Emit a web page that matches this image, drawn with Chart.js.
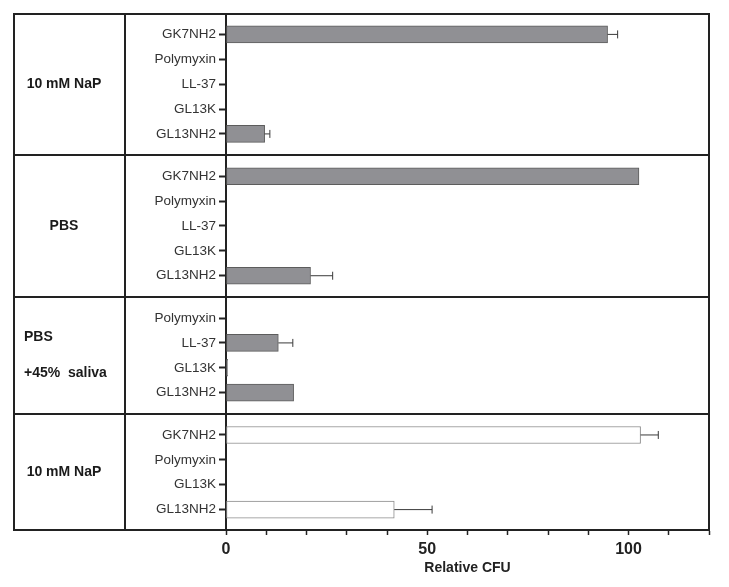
<!DOCTYPE html>
<html>
<head>
<meta charset="utf-8">
<script src="https://cdn.jsdelivr.net/npm/chart.js@4/dist/chart.umd.min.js"></script>
<style>
  html, body { margin: 0; padding: 0; background: #fff; }
  #wrap { width: 729px; height: 587px; }
</style>
</head>
<body>
<div id="wrap"><canvas id="myChart"></canvas></div>
<script>
// conditions, top to bottom
const groupNames = [["10 mM NaP"], ["PBS"], ["PBS", "+45%  saliva"], ["10 mM NaP"]];
const groupPeptides = [
  ["GK7NH2", "Polymyxin", "LL-37", "GL13K", "GL13NH2"],
  ["GK7NH2", "Polymyxin", "LL-37", "GL13K", "GL13NH2"],
  ["Polymyxin", "LL-37", "GL13K", "GL13NH2"],
  ["GK7NH2", "Polymyxin", "GL13K", "GL13NH2"]
];
// relative CFU (%)
const groupValues = [
  [94.8, 0, 0, 0, 9.6],
  [102.6, 0, 0, 0, 21],
  [0, 13, 0.4, 16.8],
  [103, 0, 0, 41.8]
];
// error bars (+ side only)
const groupErrors = [
  [2.5, 0, 0, 0, 1.3],
  [0, 0, 0, 0, 5.5],
  [0, 3.6, 0, 0],
  [4.4, 0, 0, 9.4]
];
const xLabels = [0, 50, 100];

const groupFill = ["#909094", "#909094", "#909094", "#ffffff"];
const groupBorder = ["#5c5c5c", "#5c5c5c", "#5c5c5c", "#8a8a8a"];

const GAP = 0.7; // extra space between condition blocks (in rows)
const LINE = "#222";

// flatten into rows
const rows = [];
let n = 0;
groupPeptides.forEach((peps, g) => {
  peps.forEach((p, i) => {
    rows.push({ label: p, group: g, x: groupValues[g][i], y: n + g * GAP, err: groupErrors[g][i] });
    n++;
  });
});
const yMin = -0.82;
const yMax = rows[rows.length - 1].y + 0.82;

// frame, block dividers, condition labels and error bars
const framePlugin = {
  id: "frame",
  afterDatasetsDraw(chart) {
    const ctx = chart.ctx;
    const xs = chart.scales.x, ys = chart.scales.y;
    const area = chart.chartArea;
    const left = ys.left;
    ctx.save();

    // error bars
    ctx.strokeStyle = "#3a3a3a";
    ctx.lineWidth = 1;
    rows.forEach((r) => {
      if (!r.err) return;
      const a = xs.getPixelForValue(r.x);
      const b = xs.getPixelForValue(r.x + r.err);
      const y = ys.getPixelForValue(r.y);
      ctx.beginPath();
      ctx.moveTo(a, y); ctx.lineTo(b, y);
      ctx.moveTo(b, y - 4); ctx.lineTo(b, y + 4);
      ctx.stroke();
    });

    ctx.strokeStyle = LINE;
    ctx.lineWidth = 2;
    ctx.strokeRect(left, area.top, area.right - left, area.bottom - area.top);
    ctx.beginPath();
    ctx.moveTo(125, area.top); ctx.lineTo(125, area.bottom);
    ctx.stroke();

    const tops = [area.top];
    for (let g = 1; g < groupPeptides.length; g++) {
      const last = rows.filter(r => r.group === g - 1).pop();
      const first = rows.find(r => r.group === g);
      const y = Math.round((ys.getPixelForValue(last.y) + ys.getPixelForValue(first.y)) / 2);
      tops.push(y);
      ctx.beginPath();
      ctx.moveTo(left, y); ctx.lineTo(area.right, y);
      ctx.stroke();
    }
    tops.push(area.bottom);

    // condition labels
    ctx.fillStyle = "#1a1a1a";
    ctx.font = "bold 14px 'Liberation Sans', Arial, sans-serif";
    ctx.textBaseline = "middle";
    groupNames.forEach((lines, g) => {
      const mid = (tops[g] + tops[g + 1]) / 2;
      if (lines.length === 1) {
        ctx.textAlign = "center";
        ctx.fillText(lines[0], 64, mid);
      } else {
        ctx.textAlign = "left";
        lines.forEach((t, k) => {
          ctx.fillText(t, 24, mid + (k - (lines.length - 1) / 2) * 36);
        });
      }
    });
    ctx.restore();
  }
};

const ctx = document.getElementById("myChart").getContext("2d");
const myChart = new Chart(ctx, {
  type: "bar",
  data: {
    datasets: [{
      data: rows.map(r => ({ x: r.x, y: r.y })),
      backgroundColor: rows.map(r => groupFill[r.group]),
      borderColor: rows.map(r => groupBorder[r.group]),
      borderWidth: 1,
      borderSkipped: false,
      barThickness: 17
    }]
  },
  options: {
    indexAxis: "y",
    responsive: true,
    maintainAspectRatio: false,
    animation: false,
    layout: { padding: { left: 14, top: 14, right: 20, bottom: 0 } },
    plugins: { legend: { display: false }, tooltip: { enabled: false } },
    scales: {
      y: {
        type: "linear",
        reverse: true,
        offset: false,
        min: yMin,
        max: yMax,
        afterBuildTicks: (scale) => { scale.ticks = rows.map(r => ({ value: r.y })); },
        afterFit: (scale) => { scale.width = 212; },
        ticks: {
          autoSkip: false,
          padding: 3,
          color: "#333",
          font: { family: "'Liberation Sans', Arial, sans-serif", size: 13.5 },
          callback: (v, i) => rows[i] ? rows[i].label : ""
        },
        grid: { offset: false, drawOnChartArea: false, tickLength: 7, tickWidth: 2, tickColor: LINE },
        border: { color: LINE, width: 2 }
      },
      x: {
        type: "linear",
        min: 0,
        max: 120,
        afterFit: (scale) => { scale.height = 57; },
        ticks: {
          stepSize: 10,
          padding: 5,
          color: "#222",
          font: { family: "'Liberation Sans', Arial, sans-serif", size: 16, weight: "bold" },
          callback: (v) => xLabels.includes(v) ? v : ""
        },
        grid: { drawOnChartArea: false, tickLength: 5, tickWidth: 1.5, tickColor: LINE },
        border: { color: LINE, width: 2 },
        title: {
          display: true,
          text: "Relative CFU",
          color: "#222",
          font: { family: "'Liberation Sans', Arial, sans-serif", size: 14, weight: "bold" },
          padding: { top: 0, bottom: 10 }
        }
      }
    }
  },
  plugins: [framePlugin]
});
</script>
</body>
</html>
